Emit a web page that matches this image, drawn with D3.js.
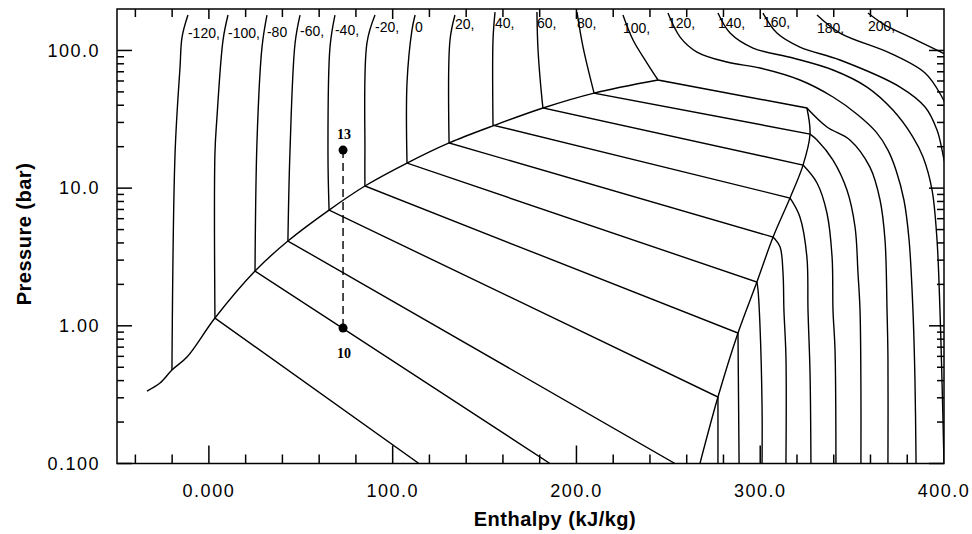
<!DOCTYPE html>
<html>
<head>
<meta charset="utf-8">
<script src="https://cdn.jsdelivr.net/npm/d3@7"></script>
<style>
body { margin: 0; background: #fff; }
text { font-family: "Liberation Sans", Arial, Helvetica, sans-serif; }
</style>
</head>
<body>
<div id="chart"></div>
<script>
// isotherms, labelled along the top of the chart
const temps = [-120, -100, -80, -60, -40, -20, 0, 20, 40, 60, 80, 100, 120, 140, 160, 180, 200]
const tempLabels = ['-120,', '-100,', '-80', '-60,', '-40,', '-20,', '0', '20,', '40,', '60,', '80,', '100,', '120,', '140,', '160,', '180,', '200,']
// pressure (bar) where each label sits
const labelP = [123.1, 123.1, 125.1, 127.2, 129.4, 136.0, 136.0, 143.0, 145.4, 145.4, 145.4, 133.8, 145.4, 145.4, 147.9, 133.8, 138.4]

// [enthalpy kJ/kg, pressure bar], top down to the saturated liquid line (or whole curve if supercritical)
const liquidBranch = [
    [[-11.4, 180.8], [-14.6, 125.1], [-15.7, 75.8], [-18.4, 18.0], [-20.1, 0.478]],
    [[10.4, 180.8], [7.7, 119.0], [4.4, 32.8], [3.3, 18.0], [3.3, 1.139]],
    [[31.6, 180.8], [28.9, 105.8], [26.2, 22.4], [25.1, 2.50]],
    [[49.6, 180.8], [46.9, 113.2], [44.1, 18.0], [43.0, 4.13]],
    [[68.6, 180.8], [65.9, 105.8], [64.8, 18.0], [65.4, 6.93]],
    [[90.4, 180.8], [86.0, 113.2], [84.9, 18.0], [84.9, 10.36]],
    [[112.2, 180.8], [110.5, 140.6], [107.8, 58.0], [107.8, 15.2]],
    [[133.9, 180.8], [131.2, 119.0], [130.7, 21.3]],
    [[155.7, 190], [154.6, 119.0], [154.6, 28.7]],
    [[178.5, 190], [179.1, 100.7], [181.3, 43.6], [181.8, 38.2]],
    [[200.3, 190], [203.6, 105.8], [209.6, 49.0]],
    [[225.3, 180.8], [230.8, 119.0], [238.4, 81.0], [244.4, 61.0]],
    [[249.8, 186.9], [256.4, 125.1], [265.6, 97.4], [281.9, 82.4], [299.9, 74.5], [321.6, 61.0], [339.6, 45.9], [353.2, 34.0], [363.0, 25.6], [369.5, 18.9], [373.9, 13.5], [378.2, 8.2], [381.0, 4.2], [383.1, 1.3], [384.2, 0.404], [384.8, 0.1]],
    [[277.0, 186.9], [283.6, 133.8], [296.1, 104.1], [317.8, 88.1], [339.6, 72.1], [358.1, 54.2], [372.2, 36.9], [383.1, 23.5], [388.6, 16.8], [393.5, 9.69], [396.2, 4.2], [397.8, 1.3], [398.9, 0.404], [400.0, 0.1]],
    [[301.5, 186.9], [309.1, 133.8], [321.6, 105.8], [343.4, 85.2], [376.1, 54.2], [389.7, 38.8], [396.2, 26.4], [399.5, 17.4], [402.2, 11.45]],
    [[330.9, 180.8], [343.4, 133.8], [370.6, 95.7], [389.7, 68.5], [398.9, 45.9], [403.3, 34.0]],
    [[358.6, 186.9], [367.9, 152.9], [381.5, 125.1], [399.5, 95.7], [408.7, 82.4]]
]

// after the (straight) two-phase segment: from the saturated vapor line, or just the end at the bottom
const vaporBranch = [
    [],
    [[114.3, 0.1]],
    [[185.6, 0.1]],
    [[253.6, 0.1]],
    [[277.0, 0.304], [277.0, 0.1]],
    [[287.9, 0.887], [288.5, 0.1]],
    [[298.2, 2.08], [298.8, 1.82], [299.9, 0.98], [301.0, 0.257], [301.0, 0.1]],
    [[307.0, 4.41], [310.8, 3.73], [312.4, 2.42], [312.9, 1.30], [314.0, 0.593], [314.0, 0.1]],
    [[316.2, 8.48], [321.6, 6.17], [325.4, 3.16], [326.0, 1.30], [327.1, 0.454], [327.6, 0.1]],
    [[323.3, 14.7], [330.9, 10.9], [336.3, 6.60], [339.1, 3.16], [339.6, 1.30], [340.7, 0.667], [341.2, 0.1]],
    [[327.1, 24.7], [330.9, 22.4], [339.6, 16.0], [347.2, 9.69], [351.6, 5.22], [353.2, 2.42], [354.3, 1.30], [354.8, 0.342], [354.8, 0.1]],
    [[325.4, 38.2], [336.3, 27.8], [348.8, 22.4], [359.7, 14.2], [365.2, 8.20], [367.9, 4.20], [369.0, 1.30], [369.5, 0.593], [369.5, 0.1]],
    [], [], [], [], []
]

// saturation lines
const satLiquid = [[-33.7, 0.336], [-26.6, 0.384], [-20.1, 0.478], [-11.9, 0.593], [3.3, 1.139], [25.1, 2.50], [43.0, 4.13], [65.4, 6.93], [84.9, 10.36], [107.8, 15.2], [130.7, 21.3], [155.7, 28.7], [181.8, 38.2], [209.6, 49.0], [244.4, 61.0]]
const satVapor = [[325.4, 38.2], [327.1, 24.7], [323.3, 14.7], [316.2, 8.48], [307.0, 4.41], [298.2, 2.08], [287.9, 0.887], [277.0, 0.304], [267.2, 0.1]]

// state points joined by the dashed line
const stateNames = ['13', '10']
const stateH = [73, 73]
const stateP = [18.9, 0.964]

const xTicks = [0, 100, 200, 300, 400]
const xTickLabels = ['0.000', '100.0', '200.0', '300.0', '400.0']
const yTicks = [0.1, 1, 10, 100]
const yTickLabels = ['0.100', '1.00', '10.0', '100.0']

const width = 972
const height = 534
const margin = {top: 9, right: 28, bottom: 70.5, left: 117}

const x = d3.scaleLinear().domain([-50, 400]).range([margin.left, width - margin.right])
const y = d3.scaleLog().domain([0.1, 200]).range([height - margin.bottom, margin.top])

const svg = d3.select('#chart').append('svg')
    .attr('width', width)
    .attr('height', height)

svg.append('clipPath').attr('id', 'plotClip')
    .append('rect')
    .attr('x', x.range()[0]).attr('y', y.range()[1])
    .attr('width', x.range()[1] - x.range()[0])
    .attr('height', y.range()[0] - y.range()[1])

const plot = svg.append('g').attr('clip-path', 'url(#plotClip)')

const line = d3.line()
    .x(d => x(d[0]))
    .y(d => y(d[1]))
    .curve(d3.curveCatmullRom.alpha(0.5))

// liquid branch, straight two-phase segment, then vapor branch
function isoPath(liq, vap) {
    let s = line(liq)
    if (vap.length === 1) s += 'L' + x(vap[0][0]) + ',' + y(vap[0][1])
    else if (vap.length > 1) s += line(vap).replace(/^M/, 'L')
    return s
}

plot.append('g')
    .selectAll('path')
    .data(temps)
    .enter()
    .append('path')
    .attr('d', (t, i) => isoPath(liquidBranch[i], vaporBranch[i]))
    .attr('fill', 'none')
    .attr('stroke', 'black')
    .attr('stroke-width', 1.4)

plot.append('path').attr('d', line(satLiquid))
    .attr('fill', 'none').attr('stroke', 'black').attr('stroke-width', 1.4)
plot.append('path').attr('d', line(satVapor))
    .attr('fill', 'none').attr('stroke', 'black').attr('stroke-width', 1.4)

// isotherm labels
svg.append('g')
    .selectAll('text')
    .data(tempLabels)
    .enter()
    .append('text')
    .attr('x', (d, i) => x(liquidBranch[i][0][0]))
    .attr('y', (d, i) => y(labelP[i]))
    .style('font-size', '14px')
    .text(d => d)

// dashed process line and state points
svg.append('line')
    .attr('x1', x(stateH[0])).attr('y1', y(stateP[0]))
    .attr('x2', x(stateH[1])).attr('y2', y(stateP[1]))
    .attr('stroke', 'black')
    .attr('stroke-width', 1.4)
    .attr('stroke-dasharray', '8,5')

stateNames.forEach((name, i) => {
    svg.append('circle')
        .attr('cx', x(stateH[i])).attr('cy', y(stateP[i]))
        .attr('r', 4.5)
        .attr('fill', 'black')
    svg.append('text')
        .attr('x', x(stateH[i]) + 1)
        .attr('y', y(stateP[i]) + (i === 0 ? -11 : 30))
        .attr('text-anchor', 'middle')
        .style('font-family', '"Liberation Serif", "Times New Roman", serif')
        .style('font-weight', 'bold')
        .style('font-size', '14px')
        .text(name)
})

// frame
const x0 = x.range()[0], x1 = x.range()[1]
const yb = y.range()[0], yt = y.range()[1]
svg.append('rect')
    .attr('x', x0).attr('y', yt)
    .attr('width', x1 - x0).attr('height', yb - yt)
    .attr('fill', 'none')
    .attr('stroke', 'black')
    .attr('stroke-width', 1.5)

const ticks = svg.append('g').attr('stroke', 'black').attr('stroke-width', 1.5)

// x ticks, every 20 kJ/kg, long ones at the labelled values
d3.range(-40, 400, 20).forEach(v => {
    const major = xTicks.includes(v)
    ticks.append('line')
        .attr('x1', x(v)).attr('x2', x(v))
        .attr('y1', yb).attr('y2', yb - (major ? 18 : 9))
    ticks.append('line')
        .attr('x1', x(v)).attr('x2', x(v))
        .attr('y1', yt).attr('y2', yt + (major ? 10 : 8))
})

// y ticks, log decades with 2..9 minors
yTicks.forEach(dec => {
    ticks.append('line').attr('x1', x0).attr('x2', x0 + 15).attr('y1', y(dec)).attr('y2', y(dec))
    ticks.append('line').attr('x1', x1).attr('x2', x1 - 15).attr('y1', y(dec)).attr('y2', y(dec))
    d3.range(2, 10).forEach(m => {
        const v = m * dec
        if (v >= 200) return
        ticks.append('line').attr('x1', x0).attr('x2', x0 + 7).attr('y1', y(v)).attr('y2', y(v))
        ticks.append('line').attr('x1', x1).attr('x2', x1 - 7).attr('y1', y(v)).attr('y2', y(v))
    })
})

// tick labels
svg.append('g')
    .selectAll('text')
    .data(xTicks)
    .enter()
    .append('text')
    .attr('x', d => x(d))
    .attr('y', 496.5)
    .attr('text-anchor', 'middle')
    .style('font-size', '18px')
    .style('letter-spacing', '1.5px')
    .text((d, i) => xTickLabels[i])

svg.append('g')
    .selectAll('text')
    .data(yTicks)
    .enter()
    .append('text')
    .attr('x', 100)
    .attr('y', d => y(d))
    .attr('dy', '0.35em')
    .attr('text-anchor', 'end')
    .style('font-size', '18px')
    .style('letter-spacing', '1.5px')
    .text((d, i) => yTickLabels[i])

// axis titles
svg.append('text')
    .attr('x', 555)
    .attr('y', 526)
    .attr('text-anchor', 'middle')
    .style('font-size', '20px')
    .style('font-weight', 'bold')
    .style('letter-spacing', '0.5px')
    .text('Enthalpy (kJ/kg)')

svg.append('text')
    .attr('transform', 'translate(31,234) rotate(-90)')
    .attr('text-anchor', 'middle')
    .style('font-size', '20px')
    .style('font-weight', 'bold')
    .style('letter-spacing', '0.5px')
    .text('Pressure (bar)')
</script>
</body>
</html>
